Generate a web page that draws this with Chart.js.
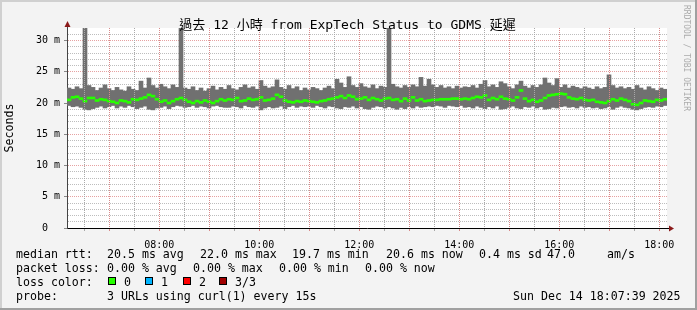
<!DOCTYPE html>
<html>
<head>
<meta charset="utf-8">
<title>過去 12 小時 from ExpTech Status to GDMS 延遲</title>
<script src="https://cdn.jsdelivr.net/npm/chart.js"></script>
<style>
    body { margin: 0; background: #fff; }
    #wrap { position: relative; width: 697px; height: 310px; }
    #chart { position: absolute; left: 0; top: 0; }
    #title { position: absolute; left: 0; top: 14px; width: 695px; text-align: center; line-height: 15px;
             font: 13px "DejaVu Sans Mono", "Noto Sans CJK TC", monospace; color: #000; white-space: pre; }
    .row { position: absolute; left: 0; width: 697px; height: 14px; line-height: 14px;
           font: 11.6px "DejaVu Sans Mono", monospace; color: #000; white-space: pre; }
    .row span { position: absolute; top: 0; }
    .box { position: absolute; top: 2px; width: 6px; height: 6px; border: 1px solid #000; }
</style>
</head>
<body>
<div id="wrap">
    <canvas id="chart" width="697" height="310"></canvas>
    <div id="title">過去 12 小時 from ExpTech Status to GDMS 延遲</div>

    <div class="row" style="top:247px">
        <span style="left:16px">median rtt:</span>
        <span style="left:107px">20.5 ms avg</span>
        <span style="left:200px">22.0 ms max</span>
        <span style="left:292px">19.7 ms min</span>
        <span style="left:386px">20.6 ms now</span>
        <span style="left:479px">0.4 ms sd</span>
        <span style="left:547px">47.0</span>
        <span style="left:607px">am/s</span>
    </div>
    <div class="row" style="top:261px">
        <span style="left:16px">packet loss:</span>
        <span style="left:107px">0.00 % avg</span>
        <span style="left:193px">0.00 % max</span>
        <span style="left:279px">0.00 % min</span>
        <span style="left:365px">0.00 % now</span>
    </div>
    <div class="row" style="top:275px">
        <span style="left:16px">loss color:</span>
        <div class="box" style="left:108px;background:#26ff00"></div>
        <span style="left:124px">0</span>
        <div class="box" style="left:145px;background:#00b4ff"></div>
        <span style="left:161px">1</span>
        <div class="box" style="left:183px;background:#ff0000"></div>
        <span style="left:199px">2</span>
        <div class="box" style="left:219px;background:#a00000"></div>
        <span style="left:235px">3/3</span>
    </div>
    <div class="row" style="top:289px">
        <span style="left:16px">probe:</span>
        <span style="left:107px">3 URLs using curl(1) every 15s</span>
        <span style="left:513px">Sun Dec 14 18:07:39 2025</span>
    </div>
</div>

<script>
    // time axis: 12 hours ending around 18:09, 150 consolidated samples
    const startHour = 6.154;
    const endHour = 18.154;
    const sampleCount = 150;

    // smoke top (max rtt, ms) per sample
    const smokeMax = [
        22.4, 22.2, 22.6, 22.3, 33.0, 22.8, 22.5, 22.0, 22.4, 22.9,
        22.3, 22.0, 22.5, 22.1, 21.9, 22.6, 22.2, 22.0, 23.5, 22.4,
        24.0, 22.8, 22.4, 23.0, 22.6, 22.3, 22.9, 22.5, 33.0, 22.4,
        22.2, 22.6, 22.0, 22.4, 21.9, 22.3, 22.7, 22.1, 22.5, 22.2,
        22.8, 22.3, 22.1, 22.5, 22.9, 22.4, 22.6, 22.2, 23.6, 22.7,
        22.4, 22.6, 23.7, 22.5, 22.2, 22.8, 22.3, 22.6, 22.0, 22.4,
        22.1, 22.5, 22.3, 22.0, 22.4, 22.7, 22.3, 23.8, 23.2, 22.5,
        24.2, 22.8, 22.5, 23.1, 22.6, 22.4, 22.9, 22.3, 22.7, 22.5,
        33.0, 23.0, 22.6, 22.4, 22.8, 22.5, 22.9, 22.6, 24.1, 22.7,
        23.8, 22.9, 22.5, 22.8, 22.4, 22.6, 22.3, 22.7, 22.4, 22.6,
        22.5, 22.8, 22.4, 23.0, 23.6, 22.6, 22.9, 22.5, 23.4, 23.1,
        22.6, 22.3, 22.9, 23.5, 22.7, 22.4, 22.8, 22.5, 22.9, 24.0,
        23.2, 22.8, 23.9, 22.5, 22.9, 22.4, 22.7, 22.5, 22.3, 22.6,
        22.4, 22.2, 22.6, 22.3, 22.5, 24.5, 22.8, 22.4, 22.6, 22.3,
        22.5, 22.2, 22.8, 22.4, 22.1, 22.6, 22.3, 22.0, 22.4, 22.2
    ];

    // smoke bottom (min rtt, ms)
    const smokeMin = [
        19.6, 19.4, 19.5, 19.3, 19.0, 18.9, 19.1, 19.3, 19.5, 19.2,
        19.4, 19.6, 19.2, 19.5, 19.3, 19.6, 19.4, 19.1, 19.3, 19.5,
        19.0, 18.9, 19.2, 19.3, 19.5, 19.1, 19.4, 19.6, 19.5, 19.3,
        19.4, 19.6, 19.3, 19.5, 19.4, 19.2, 19.5, 19.6, 19.4, 19.3,
        19.3, 19.5, 19.4, 19.2, 19.6, 19.4, 19.3, 19.5, 18.9, 19.2,
        19.4, 19.2, 19.3, 19.5, 19.1, 19.4, 19.6, 19.3, 19.5, 19.4,
        19.5, 19.3, 19.6, 19.4, 19.2, 19.5, 19.4, 19.2, 19.1, 19.4,
        19.3, 19.5, 19.2, 19.4, 19.1, 19.0, 19.3, 19.5, 19.4, 19.2,
        19.4, 19.2, 19.0, 19.3, 19.1, 19.4, 19.2, 19.5, 19.3, 19.4,
        19.5, 19.4, 19.6, 19.5, 19.3, 19.6, 19.5, 19.4, 19.6, 19.3,
        19.4, 19.2, 19.5, 19.3, 19.1, 19.4, 19.2, 19.5, 19.0, 19.1,
        19.3, 19.5, 19.2, 19.1, 19.4, 19.3, 19.5, 19.2, 19.4, 19.0,
        19.1, 19.3, 19.2, 19.4, 19.5, 19.3, 19.4, 19.2, 19.5, 19.3,
        19.4, 19.2, 19.3, 19.1, 19.2, 19.4, 19.0, 19.3, 19.5, 19.3,
        19.2, 19.0, 18.9, 19.1, 19.3, 19.4, 19.3, 19.5, 19.4, 19.6
    ];

    // median rtt (ms), 0 loss everywhere
    const medianRtt = [
        20.5, 20.9, 21.0, 20.7, 20.3, 20.8, 20.8, 20.4, 20.6, 20.5,
        20.3, 20.2, 20.0, 20.4, 20.3, 20.1, 20.6, 20.5, 20.7, 20.9,
        21.3, 21.1, 20.6, 20.2, 20.4, 20.0, 20.3, 20.6, 20.8, 20.5,
        20.2, 20.0, 20.3, 20.1, 20.4, 20.2, 20.0, 20.3, 20.6, 20.4,
        20.6, 20.5, 20.8, 20.3, 20.4, 20.7, 20.5, 20.6, 20.9, 20.4,
        20.5, 20.7, 21.3, 21.0, 20.4, 20.2, 20.1, 20.3, 20.2, 20.4,
        20.3, 20.2, 20.1, 20.3, 20.4, 20.6, 20.7, 20.9, 21.1, 20.8,
        21.2, 21.0, 20.6, 20.7, 20.9, 20.5, 20.8, 20.6, 20.4, 20.7,
        20.8, 20.5, 20.6, 20.3, 20.7, 20.4, 20.9, 20.4, 20.6, 20.3,
        20.4, 20.5, 20.5, 20.6, 20.6, 20.6, 20.7, 20.7, 20.6, 20.7,
        20.6, 20.8, 21.0, 20.9, 21.2, 20.5, 20.8, 20.6, 21.0, 20.7,
        20.6, 20.4, 20.9, 22.0, 20.7, 20.3, 20.5, 20.2, 20.4, 20.8,
        21.2, 21.3, 21.4, 21.5, 21.4, 20.9, 20.7, 20.6, 20.8, 20.5,
        20.4, 20.5, 20.2, 20.1, 20.0, 20.3, 20.6, 20.4, 20.7, 20.5,
        20.3, 19.8, 19.7, 20.0, 20.4, 20.3, 20.2, 20.5, 20.4, 20.6
    ];

    // grid: minor every 30 min, major every hour, label every 2 hours
    const hourTicks = [];
    for (let h = 6.5; h <= 18; h += 0.5) hourTicks.push(h);

    const MONO = '"DejaVu Sans Mono", "Noto Sans CJK TC", monospace';
    const MAJOR = '#e6a2a2';
    const MINOR = '#bdbdbd';
    const V_MAJOR = '#d98a8a';
    const V_MINOR = '#a9a9a9';

    const sampleHour = i => startHour + (i + 0.5) * (endHour - startHour) / sampleCount;

    // frame, plot background, time grid, axis arrows and the rrdtool watermark
    const rrdFrame = {
        id: 'rrdFrame',
        beforeDraw(chart) {
            const {ctx, chartArea: a, width, height} = chart;
            ctx.save();
            ctx.fillStyle = '#f3f3f3';
            ctx.fillRect(0, 0, width, height);
            ctx.fillStyle = '#d0d0d0';
            ctx.fillRect(0, 0, width, 2);
            ctx.fillRect(0, 0, 2, height);
            ctx.fillStyle = '#a0a0a0';
            ctx.fillRect(width - 2, 0, 2, height);
            ctx.fillRect(0, height - 2, width, 2);
            ctx.fillStyle = '#ffffff';
            ctx.fillRect(a.left, a.top, a.right - a.left, a.bottom - a.top);
            ctx.restore();
        },
        afterDraw(chart) {
            const {ctx, chartArea: a} = chart;
            const xs = chart.scales.x;
            ctx.save();
            // dotted vertical time grid, one dot every second pixel
            hourTicks.forEach(h => {
                const px = Math.floor(xs.getPixelForValue(h));
                ctx.fillStyle = Number.isInteger(h) ? V_MAJOR : V_MINOR;
                for (let y = Math.ceil(a.top); y < a.bottom; y += 2) {
                    ctx.fillRect(px, y, 1, 1);
                }
                ctx.fillRect(px, a.bottom + 1, 1, 2);
            });

            ctx.lineWidth = 1;
            ctx.strokeStyle = '#444';
            ctx.beginPath();
            ctx.moveTo(a.left + 0.5, a.top);
            ctx.lineTo(a.left + 0.5, a.top - 5);
            ctx.stroke();
            ctx.strokeStyle = '#000';
            ctx.beginPath();
            ctx.moveTo(a.right, a.bottom + 0.5);
            ctx.lineTo(a.right + 3, a.bottom + 0.5);
            ctx.stroke();

            ctx.fillStyle = '#8b1a1a';
            ctx.beginPath();
            ctx.moveTo(a.left + 0.5, a.top - 7);
            ctx.lineTo(a.left - 2.5, a.top - 1);
            ctx.lineTo(a.left + 3.5, a.top - 1);
            ctx.closePath();
            ctx.fill();
            ctx.beginPath();
            ctx.moveTo(a.right + 7, a.bottom + 0.5);
            ctx.lineTo(a.right + 2, a.bottom - 2.5);
            ctx.lineTo(a.right + 2, a.bottom + 3.5);
            ctx.closePath();
            ctx.fill();

            ctx.translate(686, 5);
            ctx.rotate(Math.PI / 2);
            ctx.fillStyle = '#ababab';
            ctx.font = '8px "DejaVu Sans Mono", monospace';
            ctx.textBaseline = 'middle';
            ctx.textAlign = 'left';
            ctx.fillText('RRDTOOL / TOBI OETIKER', 0, 0);
            ctx.restore();
        }
    };

    const canvasCtx = document.getElementById('chart').getContext('2d');
    new Chart(canvasCtx, {
        type: 'bar',
        data: {
            datasets: [
                {
                    label: 'median rtt',
                    data: medianRtt.map((m, i) => ({x: sampleHour(i), y: [m - 0.16, m + 0.16]})),
                    backgroundColor: '#26ff00',
                    grouped: false,
                    barPercentage: 1,
                    categoryPercentage: 1,
                    order: 1
                },
                {
                    label: 'smoke',
                    data: smokeMax.map((hi, i) => ({x: sampleHour(i), y: [smokeMin[i], hi]})),
                    backgroundColor: '#707070',
                    grouped: false,
                    barPercentage: 1,
                    categoryPercentage: 1,
                    order: 2
                }
            ]
        },
        options: {
            responsive: false,
            animation: false,
            devicePixelRatio: 1,
            layout: { padding: { top: 28, left: 0, right: 30, bottom: 0 } },
            plugins: {
                legend: { display: false },
                tooltip: { enabled: false },
                title: { display: false }
            },
            scales: {
                x: {
                    type: 'linear',
                    min: startHour,
                    max: endHour,
                    offset: false,
                    afterFit(scale) { scale.height = 82; },
                    afterBuildTicks(scale) { scale.ticks = hourTicks.map(v => ({value: v})); },
                    grid: { display: false, offset: false },
                    border: { display: true, color: '#000', width: 1 },
                    ticks: {
                        autoSkip: false,
                        maxRotation: 0,
                        minRotation: 0,
                        padding: 3,
                        color: '#000',
                        font: { family: MONO, size: 10 },
                        callback: v => (Number.isInteger(v) && v % 2 === 0) ? String(v).padStart(2, '0') + ':00' : ''
                    }
                },
                y: {
                    min: 0,
                    max: 32,
                    afterFit(scale) { scale.width = 67; },
                    title: {
                        display: true,
                        text: 'Seconds',
                        color: '#000',
                        font: { family: MONO, size: 11.6 },
                        padding: { top: 3, bottom: 0 }
                    },
                    grid: {
                        color: c => c.tick.value === 32 ? 'rgba(0,0,0,0)' : (c.tick.value % 5 === 0 ? MAJOR : MINOR),
                        tickColor: c => c.tick.value % 5 === 0 ? '#888' : 'rgba(0,0,0,0)',
                        tickLength: 3
                    },
                    border: { color: '#444', width: 1, dash: [1, 1] },
                    ticks: {
                        stepSize: 1,
                        autoSkip: false,
                        padding: 4,
                        color: '#000',
                        font: { family: MONO, size: 10 },
                        callback: v => v % 5 !== 0 ? '' : (v === 0 ? '0  ' : v + ' m')
                    }
                }
            }
        },
        plugins: [rrdFrame]
    });
</script>
</body>
</html>
